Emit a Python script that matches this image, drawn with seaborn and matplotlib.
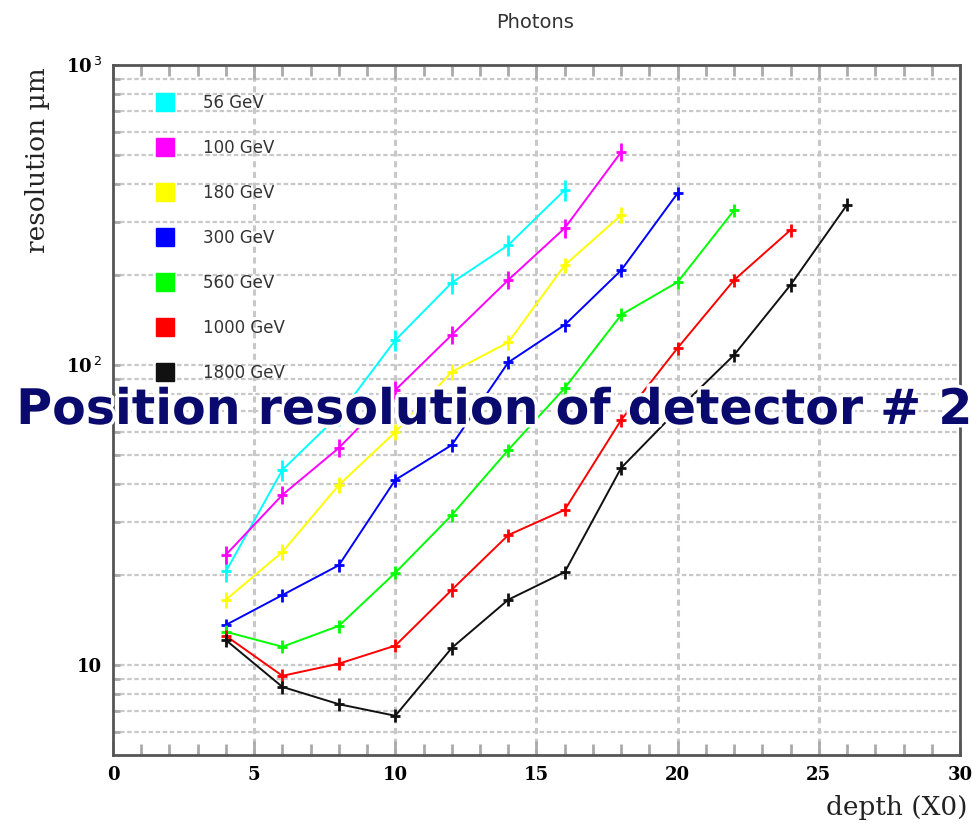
import numpy as np
import pandas as pd
import matplotlib
matplotlib.use("Agg")
import matplotlib.pyplot as plt
import seaborn as sns
from matplotlib.lines import Line2D
from matplotlib.ticker import FixedLocator, NullFormatter, LogLocator
import matplotlib.patheffects as pe

# ---- data ----
energies = ["56 GeV", "100 GeV", "180 GeV", "300 GeV", "560 GeV", "1000 GeV", "1800 GeV"]
colors = ["#00ffff", "#ff00ff", "#ffff00", "#0000ff", "#00ff00", "#ff0000", "#111111"]

depth_56 = [4, 6, 8, 10, 12, 14, 16]
res_56 = [20.5, 44.7, 68, 121, 188, 251, 383]
depth_100 = [4, 6, 8, 10, 12, 14, 16, 18]
res_100 = [23.3, 36.9, 52.9, 82.5, 126, 192, 286, 513]
depth_180 = [4, 6, 8, 10, 12, 14, 16, 18]
res_180 = [16.5, 23.8, 39.8, 59.8, 94.8, 119, 215, 316]
depth_300 = [4, 6, 8, 10, 12, 14, 16, 18, 20]
res_300 = [13.6, 17.1, 21.5, 41.4, 54.1, 102, 136, 207, 374]
depth_560 = [4, 6, 8, 10, 12, 14, 16, 18, 20, 22]
res_560 = [12.9, 11.5, 13.5, 20.3, 31.6, 52.1, 83.8, 147, 189, 328]
depth_1000 = [4, 6, 8, 10, 12, 14, 16, 18, 20, 22, 24]
res_1000 = [12.5, 9.2, 10.1, 11.6, 17.8, 27.1, 32.9, 65.6, 114, 192, 282]
depth_1800 = [4, 6, 8, 10, 12, 14, 16, 18, 20, 22, 24, 26]
res_1800 = [12.1, 8.45, 7.4, 6.77, 11.4, 16.5, 20.4, 45.4, 70.8, 108, 185, 342]
# relative error bars per series
rel_err = [0.08, 0.07, 0.06, 0.05, 0.05, 0.05, 0.05]

series = [(depth_56, res_56), (depth_100, res_100), (depth_180, res_180),
          (depth_300, res_300), (depth_560, res_560), (depth_1000, res_1000),
          (depth_1800, res_1800)]

rows = []
for name, (d, r) in zip(energies, series):
    for xi, yi in zip(d, r):
        rows.append({"depth": xi, "res": yi, "energy": name})
df = pd.DataFrame(rows)

fig = plt.figure(figsize=(9.78, 8.27), dpi=100)
ax = fig.add_axes([113/978, 1-755/827, (960-113)/978, (755-65)/827])

ax.set_yscale("log")
ax.set_xlim(0, 30)
ax.set_ylim(5.01, 1000)

# grid
grid_c = "#c8c8c8"
for v in [5, 10, 15, 20, 25]:
    ax.axvline(v, color=grid_c, lw=2.2, ls=(0, (2, 1.5)), zorder=0)
for dec in [1, 10, 100]:
    for m in range(1, 10):
        yv = dec * m
        if 5.01 < yv < 1000:
            ax.axhline(yv, color=grid_c, lw=1.6, ls=(0, (2, 1.2)), zorder=0)

sns.lineplot(data=df, x="depth", y="res", hue="energy", hue_order=energies,
             palette=colors, ax=ax, lw=1.4, legend=False, zorder=3)
for (d, r), c, e in zip(series, colors, rel_err):
    r = np.array(r)
    ax.errorbar(d, r, yerr=r * e, fmt="none", ecolor=c, elinewidth=2.0,
                capsize=0, zorder=4)
    ax.plot(d, r, ls="none", marker="_", ms=7, mew=2, color=c, zorder=4)

# spines / ticks
for s in ax.spines.values():
    s.set_color("#555555")
    s.set_linewidth(2)
ax.xaxis.set_major_locator(FixedLocator([0, 5, 10, 15, 20, 25, 30]))
ax.xaxis.set_minor_locator(FixedLocator(list(range(0, 31))))
ax.tick_params(axis="x", which="both", direction="in", top=True, color="#aaaaaa",
               width=2)
ax.tick_params(axis="x", which="major", length=10)
ax.tick_params(axis="x", which="minor", length=8)
ax.yaxis.set_major_locator(FixedLocator([10, 100, 1000]))
ax.yaxis.set_minor_locator(LogLocator(base=10, subs=np.arange(2, 10)))
ax.yaxis.set_minor_formatter(NullFormatter())
ax.tick_params(axis="y", which="both", direction="in", length=5, color="#aaaaaa",
               width=2)
ax.set_yticklabels(["10", "10$^{\\,2}$", "10$^{\\,3}$"], fontsize=13,
                   family="DejaVu Serif", fontweight="bold")
ax.set_xticklabels(["0", "5", "10", "15", "20", "25", "30"], fontsize=13,
                   family="DejaVu Serif", fontweight="bold")
ax.tick_params(axis="x", pad=8)
ax.tick_params(axis="y", pad=8)
ax.set_xlabel("")
ax.set_ylabel("")

fig.text(535/978, 1-22/827, "Photons", ha="center", va="center", fontsize=14,
         color="#333333", family="DejaVu Sans")
fig.text(38/978, 1-160/827, "resolution \u00b5m", rotation=90, ha="center",
         va="center", fontsize=19, family="DejaVu Serif", color="#222222")
fig.text(968/978, 1-808/827, "depth (X0)", ha="right", va="center", fontsize=19,
         family="DejaVu Serif", color="#222222")

# legend
handles = [Line2D([], [], ls="none", marker="s", ms=13, mfc=c, mec=c) for c in colors]
leg = ax.legend(handles, energies, loc="upper left",
                bbox_to_anchor=(20/847, 1-14/690), frameon=False,
                labelspacing=1.62, handletextpad=1.3,
                prop={"family": "DejaVu Sans", "size": 12})
for t in leg.get_texts():
    t.set_color("#333333")

# overlay caption
fig.text(494/978, 1-410/827, "Position resolution of detector # 2", ha="center",
         va="center", fontsize=35.3, color="#0a0a6e", family="DejaVu Sans",
         fontweight="bold",
         path_effects=[pe.withStroke(linewidth=5, foreground="white")], zorder=10)

fig.savefig("out.png", dpi=100)
